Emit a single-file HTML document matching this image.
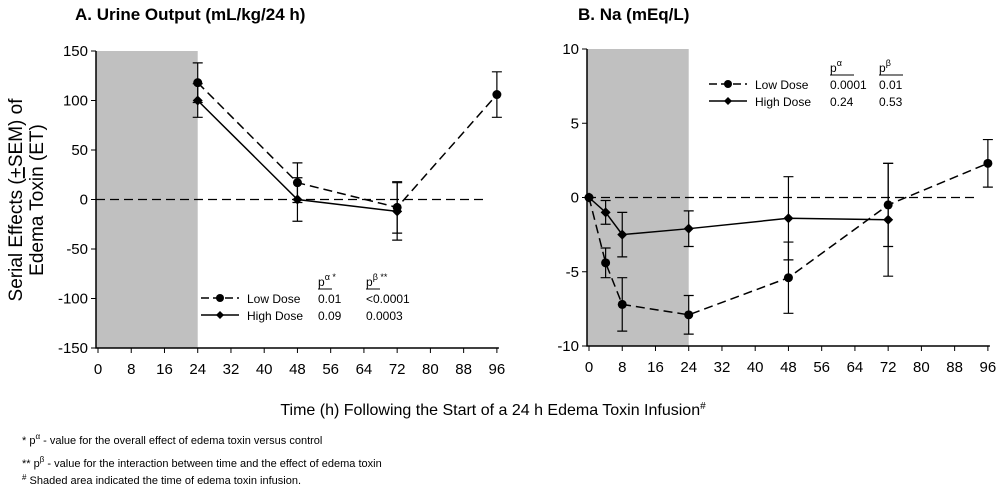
<!DOCTYPE html>
<html><head><meta charset="utf-8"><style>
body{margin:0;background:#fff;}
svg text{font-family:"Liberation Sans",Arial,sans-serif;fill:#000;}
</style></head><body>
<svg width="1000" height="489" viewBox="0 0 1000 489">
<g id="pA"></g>
<g id="pB"></g>
<text x="22" y="200" font-size="19" text-anchor="middle" transform="rotate(-90 22 200)">Serial Effects (<tspan text-decoration="underline">+</tspan>SEM) of</text>
<text x="43" y="200" font-size="19" text-anchor="middle" transform="rotate(-90 43 200)">Edema Toxin (ET)</text>
<text x="493" y="415" font-size="16" text-anchor="middle">Time (h) Following the Start of a 24 h Edema Toxin Infusion<tspan font-size="10" dy="-6">#</tspan></text>
<text x="22" y="444" font-size="11">* p<tspan font-size="8" dy="-5">α</tspan><tspan dy="5"> - value for the overall effect of edema toxin versus control</tspan></text>
<text x="22" y="467" font-size="11">** p<tspan font-size="8" dy="-5">β</tspan><tspan dy="5"> - value for the interaction between time and the effect of edema toxin</tspan></text>
<text x="22" y="484" font-size="11"><tspan font-size="8" dy="-4">#</tspan><tspan dy="4"> Shaded area indicated the time of edema toxin infusion.</tspan></text>
</svg>
<script>
const NS="http://www.w3.org/2000/svg";
const xTicks=[0,8,16,24,32,40,48,56,64,72,80,88,96];
const aTimes=[24,48,72,96];
const aLow=[118,17,-8,106];
const aLowErr=[20,20,26,23];
const aHighTimes=[24,48,72];
const aHigh=[100,0,-12];
const aHighErr=[17,22,29];
const aYTicks=[150,100,50,0,-50,-100,-150];
const bTimes=[0,4,8,24,48,72,96];
const bLow=[0,-4.4,-7.2,-7.9,-5.4,-0.5,2.3];
const bLowErr=[0,1,1.8,1.3,2.4,2.8,1.6];
const bHighTimes=[0,4,8,24,48,72];
const bHigh=[0,-1,-2.5,-2.1,-1.4,-1.5];
const bHighErr=[0,0.8,1.5,1.2,2.8,3.8];
const bYTicks=[10,5,0,-5,-10];

function mk(p,tag,at,txt){const e=document.createElementNS(NS,tag);for(const k in at)e.setAttribute(k,at[k]);if(txt!==undefined)e.textContent=txt;p.appendChild(e);return e;}

function panel(g,cfg){
  const xs=t=>cfg.x0+t*cfg.xs;
  const ys=v=>cfg.yTop+(cfg.yMax-v)/(cfg.yMax-cfg.yMin)*(cfg.yBot-cfg.yTop);
  const r=mk(g,'rect',{x:cfg.ax,y:cfg.yTop,width:xs(24)-cfg.ax,height:cfg.yBot-cfg.yTop,fill:'#c0c0c0'});
  
  const title=mk(g,'text',{x:cfg.tx,y:20,'font-size':17,'font-weight':'bold'},cfg.title);
  
  const ax=mk(g,'path',{d:`M${cfg.ax},${cfg.yTop}V${cfg.yBot}H${xs(96)+2}`,stroke:'#000','stroke-width':1.5,fill:'none'});
  
  cfg.yTicks.forEach(v=>{
    mk(g,'line',{x1:cfg.ax-5,x2:cfg.ax,y1:ys(v),y2:ys(v),stroke:'#000'});
    const t=mk(g,'text',{x:cfg.ax-8,y:ys(v)+5,'font-size':15,'text-anchor':'end'},v);
    
  });
  xTicks.forEach(v=>{
    mk(g,'line',{x1:xs(v),x2:xs(v),y1:cfg.yBot,y2:cfg.yBot+5,stroke:'#000'});
    const t=mk(g,'text',{x:xs(v),y:cfg.yBot+26,'font-size':15,'text-anchor':'middle'},v);
    
  });
  const z=mk(g,'line',{x1:cfg.ax,x2:xs(93),y1:ys(0),y2:ys(0),stroke:'#000','stroke-width':1.3,'stroke-dasharray':'9,5'});
  
  function series(T,V,E,dash,marker,name){
    const pl=mk(g,'polyline',{points:T.map((t,i)=>xs(t)+','+ys(V[i])).join(' '),fill:'none',stroke:'#000','stroke-width':1.5,'stroke-dasharray':dash});
    
    T.forEach((t,i)=>{
      const x=xs(t),y=ys(V[i]);
      if(E[i]>0){const eb=mk(g,'path',{d:`M${x},${ys(V[i]+E[i])}V${ys(V[i]-E[i])}M${x-5},${ys(V[i]+E[i])}h10M${x-5},${ys(V[i]-E[i])}h10`,stroke:'#000','stroke-width':1.2,fill:'none'});
      }
      let m;
      if(marker==='c')m=mk(g,'circle',{cx:x,cy:y,r:4.5,fill:'#000'});
      else m=mk(g,'path',{d:`M${x},${y-5}L${x+5},${y}L${x},${y+5}L${x-5},${y}Z`,fill:'#000'});
      
    });
  }
  series(cfg.hT,cfg.hV,cfg.hE,'none','d','high-dose');
  series(cfg.lT,cfg.lV,cfg.lE,'9,5','c','low-dose');
  const L=cfg.leg;
  const lg=mk(g,'g',{});
  mk(lg,'line',{x1:L.x,x2:L.x+38,y1:L.y,y2:L.y,stroke:'#000','stroke-width':1.5,'stroke-dasharray':'8,4'});
  mk(lg,'circle',{cx:L.x+19,cy:L.y,r:4,fill:'#000'});
  mk(lg,'line',{x1:L.x,x2:L.x+38,y1:L.y+17,y2:L.y+17,stroke:'#000','stroke-width':1.5});
  mk(lg,'path',{d:`M${L.x+19},${L.y+13}l4,4l-4,4l-4,-4z`,fill:'#000'});
  mk(lg,'text',{x:L.x+46,y:L.y+5,'font-size':12},'Low Dose');
  mk(lg,'text',{x:L.x+46,y:L.y+22,'font-size':12},'High Dose');
  [[L.c1,L.h1,L.v1],[L.c2,L.h2,L.v2]].forEach(([cx,h,v])=>{
    const ht=mk(lg,'text',{x:cx,y:L.y-12,'font-size':12});
    ht.innerHTML=h;
    mk(lg,'line',{x1:cx,x2:cx+L.uw,y1:L.y-9,y2:L.y-9,stroke:'#000'});
    mk(lg,'text',{x:cx,y:L.y+5,'font-size':12},v[0]);
    mk(lg,'text',{x:cx,y:L.y+22,'font-size':12},v[1]);
  });
}
panel(document.getElementById('pA'),{title:'A. Urine Output (mL/kg/24 h)',tx:75,ax:96,x0:98,xs:4.155,yTop:51,yBot:348,yMax:150,yMin:-150,yTicks:aYTicks,
 lT:aTimes,lV:aLow,lE:aLowErr,hT:aHighTimes,hV:aHigh,hE:aHighErr,
 leg:{x:201,y:298,c1:318,c2:366,uw:14,h1:'  p<tspan font-size="9" dy="-6">α *</tspan>',h2:'  p<tspan font-size="9" dy="-6">β **</tspan>',v1:['0.01','0.09'],v2:['<0.0001','0.0003']}});
panel(document.getElementById('pB'),{title:'B. Na (mEq/L)',tx:578,ax:587,x0:589,xs:4.155,yTop:49,yBot:346,yMax:10,yMin:-10,yTicks:bYTicks,
 lT:bTimes,lV:bLow,lE:bLowErr,hT:bHighTimes,hV:bHigh,hE:bHighErr,
 leg:{x:709,y:84,c1:830,c2:879,uw:24,h1:'  p<tspan font-size="9" dy="-6">α</tspan>',h2:'  p<tspan font-size="9" dy="-6">β</tspan>',v1:['0.0001','0.24'],v2:['0.01','0.53']}});
</script>
</body></html>
